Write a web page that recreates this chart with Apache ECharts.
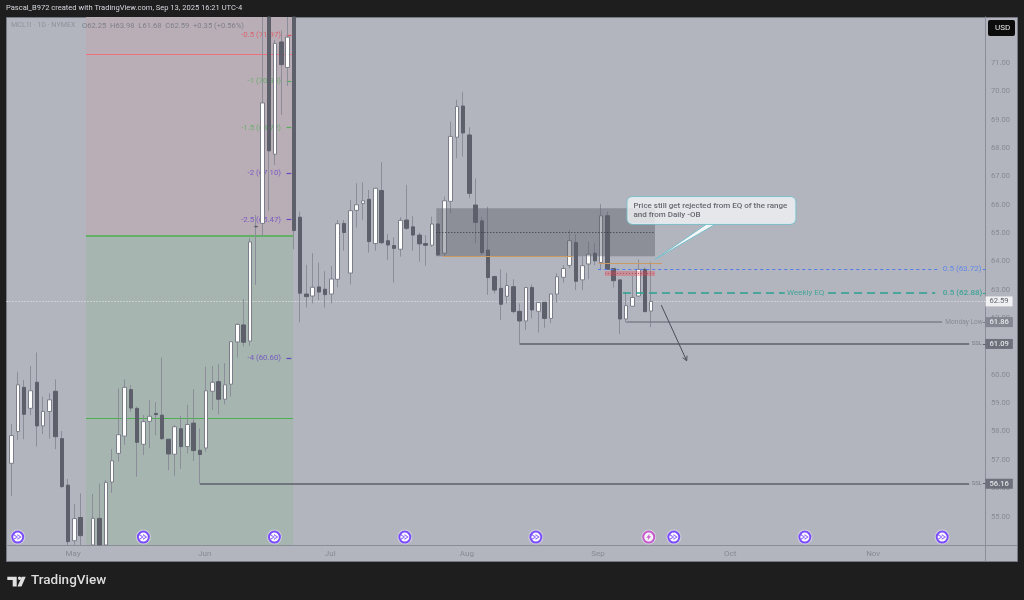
<!DOCTYPE html>
<html><head><meta charset="utf-8">
<style>html,body{margin:0;padding:0;background:#1e1e1e}#c{width:1024px;height:600px}</style>
<script src="https://cdn.jsdelivr.net/npm/echarts@6/dist/echarts.min.js"></script>
</head><body><div id="c"></div>
<script>
// Daily bars of MCL1!
const open = [56.88,58.00,59.56,58.82,59.74,58.20,58.71,59.42,57.75,56.11,54.15,54.97,53.80,53.70,54.94,53.90,56.22,57.23,57.84,59.48,58.82,57.55,58.36,58.64,58.58,57.73,57.20,58.10,57.47,58.30,57.34,57.42,59.42,59.76,59.14,59.67,61.16,61.76,61.19,65.24,65.34,73.90,67.78,71.74,70.84,74.20,65.56,62.85,62.78,63.10,63.02,62.85,63.37,65.34,63.59,65.80,66.04,66.19,64.63,66.50,64.73,64.56,64.43,65.46,65.22,64.93,64.63,64.57,65.32,64.29,66.12,68.38,69.48,68.46,65.99,65.43,64.40,63.47,63.05,62.77,63.11,62.24,61.90,63.08,62.24,62.56,61.99,62.85,63.44,63.86,64.67,63.35,63.91,64.29,63.96,65.61,63.75,63.35,61.97,62.42,62.78,63.72,62.25];
const close = [57.86,59.65,58.61,59.44,58.20,58.71,59.12,57.82,56.06,54.12,54.93,54.33,53.40,54.94,53.80,56.21,56.97,57.89,59.56,58.83,57.62,58.35,58.54,58.60,57.75,57.21,58.17,57.47,58.25,57.33,57.19,59.44,59.74,59.14,59.65,61.17,61.78,61.15,64.69,65.22,69.59,67.90,71.69,70.94,71.91,65.09,62.88,62.76,63.09,62.92,62.83,63.38,65.33,65.02,65.79,66.00,66.14,64.70,66.58,64.66,64.58,64.46,65.45,65.17,64.93,64.62,64.57,65.32,64.23,66.14,68.41,69.46,68.53,66.40,65.38,64.31,63.43,62.99,62.49,63.15,62.23,61.90,63.08,62.29,62.55,61.99,62.85,63.46,63.75,64.73,63.30,63.85,64.26,64.02,65.61,63.72,63.32,61.97,62.44,62.73,63.72,62.23,62.59];
const low = [55.73,57.70,57.73,58.58,57.47,57.91,57.76,57.38,56.00,53.90,53.90,53.90,53.10,53.40,53.50,53.60,55.84,56.94,57.53,58.70,56.41,57.17,57.41,57.88,57.70,56.64,56.44,56.68,57.23,56.96,56.17,57.29,58.76,58.61,58.96,59.23,60.61,60.99,61.02,63.17,64.90,65.79,67.40,69.17,70.19,64.43,61.85,62.38,62.52,62.64,62.37,62.52,63.09,64.38,63.19,65.19,65.46,64.31,64.38,64.62,64.05,63.26,64.17,65.11,64.38,63.99,63.85,64.52,64.20,64.17,65.70,67.64,67.70,66.23,64.64,64.23,62.82,62.87,61.93,62.52,62.17,61.11,61.58,61.99,61.49,61.66,61.82,62.55,63.25,63.76,62.99,62.99,63.37,63.87,63.70,63.70,63.08,61.44,61.86,62.40,62.75,62.21,61.68];
const high = [58.27,60.11,59.82,60.31,60.79,59.23,59.35,59.84,58.02,56.33,55.44,55.82,53.95,55.80,56.17,56.29,57.38,59.52,59.84,59.64,58.88,58.58,59.11,59.04,60.61,57.73,58.23,58.55,58.94,59.49,58.11,60.29,60.31,60.38,60.41,61.17,61.82,62.68,64.83,65.64,72.90,74.50,71.81,72.14,72.90,75.00,65.76,63.88,64.29,63.96,63.66,63.84,65.46,65.46,66.17,66.76,66.79,66.52,66.58,67.50,64.97,64.85,65.56,66.70,65.60,65.02,64.93,65.58,65.34,66.29,68.93,69.70,69.98,68.73,66.93,65.58,65.93,63.49,63.73,63.60,63.37,62.52,63.08,63.19,62.56,62.56,62.85,63.58,63.87,65.11,64.96,64.17,64.70,64.64,66.03,65.76,63.76,63.35,62.93,63.49,64.07,63.79,63.98];

const priceTicks = [55,56,57,58,59,60,61,62,63,64,65,66,67,68,69,70,71];
const monthNames = ['May','Jun','Jul','Aug','Sep','Oct','Nov'];
const monthBars  = [9.8,30.8,50.8,72.6,93.5,114.6,137.4];

const fibLevels = ['-0.5 (71.97)','-1 (70.35)','-1.5 (68.72)','-2 (67.10)','-2.5 (65.47)','-4 (60.60)'];
const fibPrices = [71.97,70.35,68.72,67.10,65.47,60.60];

const waveBars = [0.96,21,41.9,62.7,83.6,105.6,126.5,148.4];
const boltBars = [101.6];

const lastPrice = 62.59, mondayLow = 61.86, sslNear = 61.09, sslFar = 56.16, fibBlue = 63.72, fibTeal = 62.88;

const xMin = -0.83, xMax = 155.31, yMin = 54, yMax = 72.62;
const WICK = '#8b8e98', DARK = '#5d606b', AXIS = '#8a8d97', BG = '#b2b5be', FONT = 'Roboto';
const TEAL = '#2aa08e', BLUE = '#4f7df0', ORANGE = '#c99a62', RED = '#e2505e', GREEN = '#58ad5c', PURPLE = '#6a45c4';

// Bars are cut at the pane edges, as in the picture
const fit = v => Math.min(yMax, Math.max(yMin, v));
const visible = open.map((o,i)=>i).filter(i => high[i] > yMin);
const bars = visible.map(i=>[i,fit(open[i]),fit(close[i]),fit(low[i]),fit(high[i])]);
const bodies = visible.map(i=>[i,fit(open[i]),fit(close[i]),Math.min(fit(open[i]),fit(close[i])),Math.max(fit(open[i]),fit(close[i]))]);

function seg(x1,y1,x2,y2,color,width,type){
  return [{coord:[x1,y1],lineStyle:{color,width,type:type||'solid'}},{coord:[x2,y2]}];
}
function box(x1,y1,x2,y2,color){
  return [{coord:[x1,y1],itemStyle:{color}},{coord:[x2,y2]}];
}
function txt(x,y,text,position,color,size,extra){
  return {value:[x,y],label:Object.assign({show:true,formatter:text,position,distance:0,color,fontSize:size,fontFamily:FONT},extra||{})};
}
function marker(name,z,lines,areas){
  const s={name,type:'line',data:[],silent:true,animation:false,z};
  if(lines) s.markLine={silent:true,symbol:'none',animation:false,z,label:{show:false},data:lines};
  if(areas) s.markArea={silent:true,animation:false,z,label:{show:false},data:areas};
  return s;
}
const fibColors=[RED,GREEN,GREEN,PURPLE,PURPLE,PURPLE];
const tag=(bg,w)=>({backgroundColor:bg,padding:[1,4,1,4],lineHeight:8,fontWeight:w});

const option={
  animation:false,
  backgroundColor:'#1e1e1e',
  grid:{left:6.5,top:17,width:979,height:528,containLabel:false},
  xAxis:{type:'value',min:xMin,max:xMax,splitLine:{show:false},
    axisLine:{show:true,onZero:false,lineStyle:{color:AXIS,width:1}},axisTick:{show:false},
    axisLabel:{customValues:monthBars,color:'#878a94',fontSize:8,fontFamily:FONT,margin:5,
      formatter:v=>monthNames[monthBars.indexOf(v)]||''}},
  yAxis:{type:'value',position:'right',min:yMin,max:yMax,splitLine:{show:false},
    axisLine:{show:true,onZero:false,lineStyle:{color:AXIS,width:1}},axisTick:{show:false},
    axisLabel:{customValues:priceTicks,color:'#878a94',fontSize:7.6,fontFamily:FONT,margin:5.5,formatter:v=>v.toFixed(2)}},
  graphic:{elements:[
    {type:'rect',z:-10,silent:true,shape:{x:6.5,y:17.5,width:1011,height:544},style:{fill:BG,stroke:'#777a84',lineWidth:1}},
    {type:'line',z:-9,silent:true,shape:{x1:985.5,y1:545.5,x2:1017,y2:545.5},style:{stroke:AXIS,lineWidth:1}},
    {type:'line',z:-9,silent:true,shape:{x1:985.5,y1:545,x2:985.5,y2:561.5},style:{stroke:AXIS,lineWidth:1}},
    {type:'text',z:50,silent:true,left:6,top:4,style:{text:'Pascal_B972 created with TradingView.com, Sep 13, 2025 16:21 UTC-4',fill:'#d6d8de',font:'7.55px '+FONT}},
    {type:'rect',z:50,silent:true,shape:{x:988,y:20,width:27,height:16,r:2},style:{fill:'#0c0c0c'}},
    {type:'text',z:51,silent:true,left:995,top:24,style:{text:'USD',fill:'#e8e8e8',font:'8px '+FONT}},
    {type:'text',z:50,silent:true,left:11,top:22,style:{text:'MCL1! · 1D · NYMEX',fill:'#8f929c',font:'7.2px '+FONT}},
    {type:'text',z:50,silent:true,left:82,top:22,style:{text:'O62.25  H63.98  L61.68  C62.59  +0.35 (+0.56%)',fill:'#7d808a',font:'7.6px '+FONT}},
    {type:'polygon',z:50,silent:true,shape:{points:[[7.3,576.7],[16.7,576.7],[16.7,586.5],[12.7,586.5],[12.7,580],[7.3,580]]},style:{fill:'#e0e0e0'}},
    {type:'circle',z:50,silent:true,shape:{cx:19.6,cy:578.3,r:1.7},style:{fill:'#e0e0e0'}},
    {type:'polygon',z:50,silent:true,shape:{points:[[17.5,586.5],[21.5,586.5],[25.7,576.7],[21.7,576.7]]},style:{fill:'#e0e0e0'}},
    {type:'text',z:50,silent:true,left:31,top:574,style:{text:'TradingView',fill:'#dedede',font:'500 13.5px '+FONT}}
  ]},
  series:[
    marker('zones',0.5,[
      seg(11.85,71.32,44.86,71.32,'#f0707a',1.2),
      seg(11.85,64.92,44.86,64.92,'#4caf50',1.6),
      seg(11.85,58.48,44.86,58.48,'#4caf50',1.2)
    ],[
      box(11.85,yMax,44.86,64.92,'#baaeb6'),
      box(11.85,64.92,44.86,yMin,'#a6b5af')
    ]),
    {name:'fibLabels',type:'scatter',z:1,symbol:'circle',symbolSize:0,silent:true,clip:false,animation:false,
      data:fibLevels.map((t,i)=>txt(42.95,fibPrices[i],t,'left',fibColors[i],7.8))},
    marker('fibTicks',1,fibPrices.map((p,i)=>seg(43.83,p,44.6,p,fibColors[i],1.2))),
    marker('lastPrice',1.5,[seg(xMin,lastPrice,xMax,lastPrice,'#e9eaee',1,[1,2])]),
    {name:'MCL1! wicks',type:'candlestick',z:2,barWidth:1,silent:true,animation:false,
      encode:{x:0,y:[1,2,3,4]},data:bars,
      itemStyle:{color:WICK,color0:WICK,borderColor:WICK,borderColor0:WICK,borderColorDoji:WICK,borderWidth:1}},
    {name:'MCL1! bodies',type:'candlestick',z:3,barWidth:4,silent:true,animation:false,
      encode:{x:0,y:[1,2,3,4]},data:bodies,
      itemStyle:{color:'#ffffff',color0:DARK,borderColor:'#7b7e89',borderColor0:DARK,borderColorDoji:DARK,borderWidth:1}},
    marker('zonesFront',4,[
      seg(67.72,65.03,102.6,65.03,'#33353d',1,[1,2]),
      seg(94.62,63.58,102.6,63.58,'#c0505e',1,[1,2]),
      seg(68.74,64.2,89.57,64.2,ORANGE,1),
      seg(93.55,63.93,103.7,63.93,ORANGE,1),
      seg(93.55,fibBlue,148.05,fibBlue,BLUE,1,[3,3]),
      seg(154.9,fibBlue,155.3,fibBlue,BLUE,1),
      seg(97.5,fibTeal,123.3,fibTeal,TEAL,1.6,[8,5]),
      seg(130.2,fibTeal,147.3,fibTeal,TEAL,1.6,[8,5]),
      seg(154.9,fibTeal,155.3,fibTeal,TEAL,1),
      seg(98,mondayLow,148.4,mondayLow,'#7c7f8a',1.6),
      seg(154.9,mondayLow,155.3,mondayLow,'#7c7f8a',1),
      seg(81,sslNear,152.7,sslNear,DARK,1.5),
      seg(154.9,sslNear,155.3,sslNear,DARK,1),
      seg(30,sslFar,152.7,sslFar,DARK,1.5),
      seg(154.9,sslFar,155.3,sslFar,DARK,1)
    ],[
      box(67.72,65.875,102.6,64.18,'rgba(93,96,107,0.45)'),
      box(94.62,63.66,102.6,63.49,'rgba(242,54,69,0.3)')
    ]),
    {name:'arrow',type:'custom',z:5,silent:true,clip:false,animation:false,data:[[103.6,62.46,107.65,60.5]],
      encode:{x:[0,2],y:[1,3]},
      renderItem:(p,api)=>{
        const a=api.coord([api.value(0),api.value(1)]),b=api.coord([api.value(2),api.value(3)]);
        const t=Math.atan2(b[1]-a[1],b[0]-a[0]),h=5,w=0.5;
        const l=[b[0]-h*Math.cos(t-w),b[1]-h*Math.sin(t-w)],r=[b[0]-h*Math.cos(t+w),b[1]-h*Math.sin(t+w)];
        const st={stroke:'#4b4d57',lineWidth:1,fill:'none'};
        return {type:'group',children:[
          {type:'polyline',shape:{points:[a,b]},style:st},
          {type:'polyline',shape:{points:[l,b,r]},style:st}]};
      }},
    {name:'calloutTail',type:'custom',z:6,silent:true,clip:false,animation:false,data:[[102.6,64.07,110.83,65.32,112.3,65.32]],
      encode:{x:[0,2,4],y:[1,3,5]},
      renderItem:(p,api)=>({type:'polygon',shape:{points:[
          api.coord([api.value(0),api.value(1)]),api.coord([api.value(2),api.value(3)]),api.coord([api.value(4),api.value(5)])]},
        style:{fill:'#f3f5f7',stroke:'#75bfca',lineWidth:1}})},
    {name:'texts',type:'scatter',z:7,symbol:'circle',symbolSize:0,silent:true,clip:false,animation:false,data:[
      txt(98.2,65.8,'Price still get rejected from EQ of the range\nand from Daily -OB','right','#45474f',8,
        {backgroundColor:'rgba(244,246,248,0.96)',borderColor:'#75bfca',borderWidth:1,borderRadius:5,padding:[5,6,5,6],width:156,lineHeight:8.5,align:'left',fontWeight:500}),
      txt(148.5,fibBlue,'0.5 (63.72)','right',BLUE,8),
      txt(123.65,fibTeal+0.02,'Weekly EQ','right',TEAL,8),
      txt(148.5,fibTeal,'0.5 (62.88)','right',TEAL,8,{fontWeight:600}),
      txt(148.9,mondayLow,'Monday Low','right','#7c7f8a',6.6),
      txt(153.1,sslNear,'SSL','right','#6c6f7a',6),
      txt(153.1,sslFar,'SSL','right','#6c6f7a',6),
      txt(xMax,lastPrice,'62.59','right','#3b3d46',7.6,tag('#ffffff',400)),
      txt(xMax,mondayLow,'61.86','right','#ffffff',7.6,tag('#787b86',500)),
      txt(xMax,sslNear,'61.09','right','#ffffff',7.6,tag(DARK,500)),
      txt(xMax,sslFar,'56.16','right','#ffffff',7.6,tag(DARK,500))
    ]},
    {name:'halo',type:'scatter',z:7.5,silent:true,clip:false,animation:false,symbol:'circle',symbolSize:15,
      data:waveBars.concat(boltBars).map(x=>[x,54.28]),itemStyle:{color:'rgba(232,228,244,0.75)'}},
    {name:'waves',type:'scatter',z:8,silent:true,clip:false,animation:false,symbol:'circle',symbolSize:11,
      data:waveBars.map(x=>[x,54.28]),itemStyle:{color:'#ffffff',borderColor:'#7c4dff',borderWidth:2,opacity:1}},
    {name:'waveMarks',type:'scatter',z:9,silent:true,clip:false,animation:false,
      symbol:'path://M0 0L5 4L0 8V6L3 4L0 2ZM4 0L9 4L4 8V6L7 4L4 2Z',symbolSize:[8,6],
      data:waveBars.map(x=>[x,54.28]),itemStyle:{color:'#7c4dff'}},
    {name:'bolts',type:'scatter',z:8,silent:true,clip:false,animation:false,symbol:'circle',symbolSize:11,
      data:boltBars.map(x=>[x,54.28]),itemStyle:{color:'#ffffff',borderColor:'#c13bc4',borderWidth:2}},
    {name:'boltMarks',type:'scatter',z:9,silent:true,clip:false,animation:false,
      symbol:'path://M5 0L0 6H3L2 10L7 4H4Z',symbolSize:[5,7],
      data:boltBars.map(x=>[x,54.28]),itemStyle:{color:'#c13bc4'}}
  ]
};
const chart=echarts.init(document.getElementById('c'),null,{renderer:'canvas'});
chart.setOption(option);
</script></body></html>
